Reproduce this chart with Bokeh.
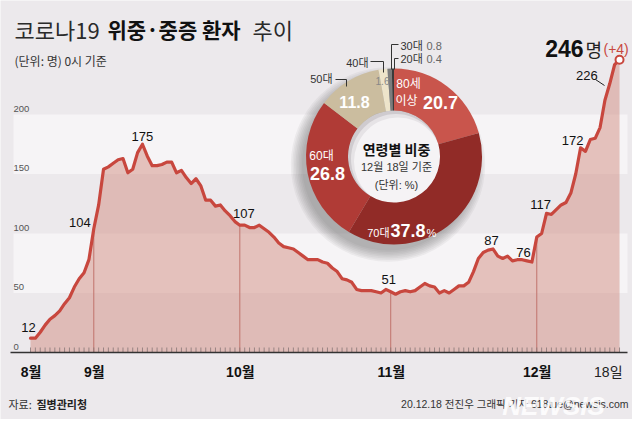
import numpy as np
import pandas as pd
from bokeh.plotting import figure
from bokeh.models import Range1d, Label, ColumnDataSource
from bokeh.embed import file_html
from bokeh.resources import INLINE

# ---------------- data ----------------
start_date = "2020-08-19"
values = [12, 12, 17, 23, 28, 31, 35, 41, 46, 55, 62, 67, 78,                 # Aug 19-31
          104, 124, 154, 156, 159, 162, 163, 151, 154, 168, 175, 165, 157, 157, 158, 160, 160,  # Sep 1-17
          151, 153, 147, 142, 146, 140, 128, 128, 123, 124, 119, 115, 110,    # Sep 18-30
          107, 107, 105, 105, 107, 104, 101, 97, 92, 89, 88, 87, 84, 81, 78, 78, 78,  # Oct 1-17
          76, 75, 71, 68, 62, 61, 59, 53, 52, 52, 52, 51, 50, 53,             # Oct 18-31
          51, 49, 51, 52, 51, 52, 55, 58, 56, 55, 50, 52, 50, 53, 56, 56, 59, 68, 79, 84,
          86, 87, 81, 79, 81, 77, 78, 78, 77, 76,                             # Nov 1-30
          97, 100, 117, 116, 120, 124, 126, 134, 150, 172, 169, 179, 180, 189, 212, 226, 242, 246]  # Dec 1-18

month_labels = ["8월", "9월", "10월", "11월", "12월", "18일"]
month_dates = ["2020-08-19", "2020-09-01", "2020-10-01", "2020-11-01", "2020-12-01", "2020-12-18"]
y_ticks = [0, 50, 100, 150, 200]
band_lo = [50, 150]
band_hi = [100, 200]
callout_dates = ["2020-08-19", "2020-09-01", "2020-09-11", "2020-10-01", "2020-11-01",
                 "2020-11-22", "2020-11-30", "2020-12-03", "2020-12-10", "2020-12-16"]

ages = ["80세 이상", "70대", "60대", "50대", "40대", "30대", "20대"]
shares = [20.7, 37.8, 26.8, 11.8, 1.6, 0.8, 0.4]
age_colors = ["#C9554C", "#912B27", "#B03B36", "#CBBD9F", "#EDE4CA", "#7C7C7C", "#3A3A3A"]

# ---------------- scales ----------------
start = pd.Timestamp(start_date)
dates = pd.date_range(start, periods=len(values), freq="D")
days = np.array([(d - start).days for d in dates], dtype=float)
vals = np.array(values, dtype=float)

K = 4.868   # px per day
S = 1.19    # px per patient


def X(px):  # reference pixel -> day index
    return (px - 30.0) / K


def Y(py):  # reference pixel -> value
    return (352.0 - py) / S


def dx(px):
    return px / K


def dy(px):
    return px / S


BG = "#ECE9EC"
BAND = "#F6F4F6"
RED = "#C8473E"
NUM = "'Liberation Sans Narrow', 'Liberation Sans', 'Noto Sans CJK KR', sans-serif"
KR = "'Noto Sans CJK KR', sans-serif"

p = figure(width=632, height=419, output_backend="svg", toolbar_location=None,
           x_range=Range1d(X(0), X(632)), y_range=Range1d(Y(419), Y(0)),
           x_axis_location=None, y_axis_location=None, min_border=0,
           background_fill_color=BG, border_fill_color=BG, outline_line_color=None)
p.grid.visible = False


def lab(x, y, text, size, color="#222", font=NUM, style="normal", align="center",
        baseline="middle", alpha=1.0):
    p.add_layout(Label(x=x, y=y, text=text, text_font_size=f"{size}px", text_color=color,
                       text_font=font, text_font_style=style, text_align=align,
                       text_baseline=baseline, text_alpha=alpha))


# bands
p.quad(left=X(13), right=X(627), bottom=band_lo, top=band_hi, fill_color=BAND, line_color=None)
for t in y_ticks:
    lab(X(13), t + dy(6), str(t), 9.5, "#555", NUM, align="left")

# area, month lines, ticks
p.varea(x=days, y1=0, y2=vals, fill_color="#D28E82", fill_alpha=0.5)
md = np.array([(pd.Timestamp(d) - start).days for d in month_dates], dtype=float)
inner = md[1:-1].astype(int)
p.segment(x0=inner, y0=0, x1=inner, y1=vals[inner], line_color="#C0736C", line_width=1)
p.segment(x0=days, y0=0, x1=days, y1=dy(5), line_color="#867676", line_width=1, line_alpha=0.8)
p.line([X(10), X(627)], [0, 0], line_color="#333333", line_width=1.6)
p.line(days, vals, line_color=RED, line_width=3.2, line_join="round", line_cap="round")
p.scatter([days[-1]], [vals[-1]], size=8, fill_color="white", line_color=RED, line_width=2)

# month labels
for i, (m, d) in enumerate(zip(month_labels, md)):
    if i < len(month_labels) - 1:
        lab(d + dx(0.5), Y(371), m, 14, "#111", NUM, "bold")
    else:
        lab(d + dx(3), Y(371), m, 14, "#222", NUM, "normal", align="right")

# callouts (offsets in px: right, up)
offs = [(-2, 11, "center"), (-3, 6, "right"), (0, 8, "center"), (4, 12, "center"),
        (-2, 12, "center"), (-1.5, 8.5, "center"), (-8.5, 9.5, "center"), (-6, 9, "center"),
        (-8, 7, "center"), (-23, 8, "center")]
for cd, (ox, oy, al) in zip(callout_dates, offs):
    i = (pd.Timestamp(cd) - start).days
    lab(days[i] + dx(ox), vals[i] + dy(oy), str(values[i]), 13, "#111", NUM, align=al)
p.line([X(595), X(604)], [Y(79), Y(85)], line_color="#222", line_width=1)

# headline value
lab(X(583), Y(48), str(values[-1]), 23, "#111", NUM, "bold", "right", "alphabetic")
lab(X(585), Y(48), "명", 18, "#222", KR, "normal", "left", "alphabetic")
lab(X(603), Y(48), f"(+{values[-1] - values[-2]})", 14, RED, NUM, "normal", "left", "alphabetic")

# ---------------- donut ----------------
cx, cy = X(393.5), Y(156)
for k in range(8):
    p.scatter([cx + dx(-6)], [cy + dy(-8)], size=2 * (86 + k * 1.6), fill_color="#5E5E5E",
              fill_alpha=0.07, line_color=None)
p.scatter([cx], [cy], size=92, fill_color="#CFCBCF", line_color=None)
p.scatter([cx + dx(2)], [cy + dy(-2.5)], size=90, fill_color="#E6E3E6", line_color=None)
p.scatter([cx + dx(4)], [cy + dy(-5)], size=88, fill_color="#F5F3F5", line_color=None)

tot = sum(shares)
cum = np.cumsum([0] + shares) / tot
src = ColumnDataSource(dict(
    start=np.pi / 2 - 2 * np.pi * cum[1:],
    end=np.pi / 2 - 2 * np.pi * cum[:-1],
    color=age_colors, age=ages))
p.annular_wedge(x=cx, y=cy, inner_radius=46, outer_radius=88, inner_radius_units="screen",
                outer_radius_units="screen", start_angle="start", end_angle="end",
                direction="anticlock", fill_color="color", line_color=None, source=src)

W = "white"
lab(X(408), Y(83), "80세", 12, W, NUM)
lab(X(406), Y(100), "이상", 12, W, NUM)
lab(X(440), Y(102), f"{shares[0]}", 18, W, NUM, "bold")
lab(X(389), Y(232), ages[1], 11, W, NUM, "normal", "right")
lab(X(425), Y(230), f"{shares[1]}", 18, W, NUM, "bold", "right")
lab(X(426), Y(232), "%", 11, W, NUM, "normal", "left")
lab(X(321), Y(155), ages[2], 12, W, NUM)
lab(X(327), Y(173), f"{shares[2]}", 18, W, NUM, "bold")
lab(X(354), Y(101), f"{shares[3]}", 16, W, NUM, "bold")
lab(X(332), Y(78), ages[3], 11, "#333", NUM, "normal", "right")
lab(X(368), Y(62), ages[4], 11, "#333", NUM, "normal", "right")
lab(X(382), Y(80), f"{shares[4]}", 10, "#888", NUM)
lab(X(400), Y(45), ages[5], 11, "#333", NUM, "normal", "left")
lab(X(426), Y(45), f"{shares[5]}", 11, "#666", NUM, "normal", "left")
lab(X(400), Y(58), ages[6], 11, "#333", NUM, "normal", "left")
lab(X(426), Y(58), f"{shares[6]}", 11, "#666", NUM, "normal", "left")
# leader lines
p.line([X(335), X(346), X(346)], [Y(79), Y(79), Y(86)], line_color="#333", line_width=1)
p.line([X(370), X(383), X(383)], [Y(61), Y(61), Y(72)], line_color="#333", line_width=1)
p.line([X(398), X(391), X(391)], [Y(44), Y(44), Y(69)], line_color="#333", line_width=1)
p.line([X(398), X(394), X(394)], [Y(58), Y(58), Y(69)], line_color="#333", line_width=1)

lab(X(396), Y(148), "연령별 비중", 14, "#111", KR, "bold")
lab(X(396), Y(166), "12월 18일 기준", 11, "#333", NUM)
lab(X(396), Y(184), "(단위: %)", 11, "#333", NUM)

# ---------------- titles / footer ----------------
lab(X(14), Y(28), "코로나19", 22, "#2A2A2A", KR, "normal", "left")
lab(X(107), Y(28), "위중·중증 환자", 21, "#111", KR, "bold", "left")
lab(X(252), Y(28), "추이", 22, "#2A2A2A", KR, "normal", "left")
lab(X(14), Y(60), "(단위: 명) 0시 기준", 12, "#333", KR, "normal", "left")
lab(X(8), Y(403), "자료:", 11, "#333", KR, "normal", "left")
lab(X(36), Y(403), "질병관리청", 11, "#222", KR, "bold", "left")
lab(X(628), Y(403), "20.12.18 전진우 그래픽 기자 618tue@newsis.com", 10.5, "#333", NUM, "normal", "right")
lab(X(553), Y(405), "NEWSIS", 26, "white", "'Liberation Sans', sans-serif", "bold italic", alpha=0.85)

open("out.html", "w").write(file_html(p, INLINE))
